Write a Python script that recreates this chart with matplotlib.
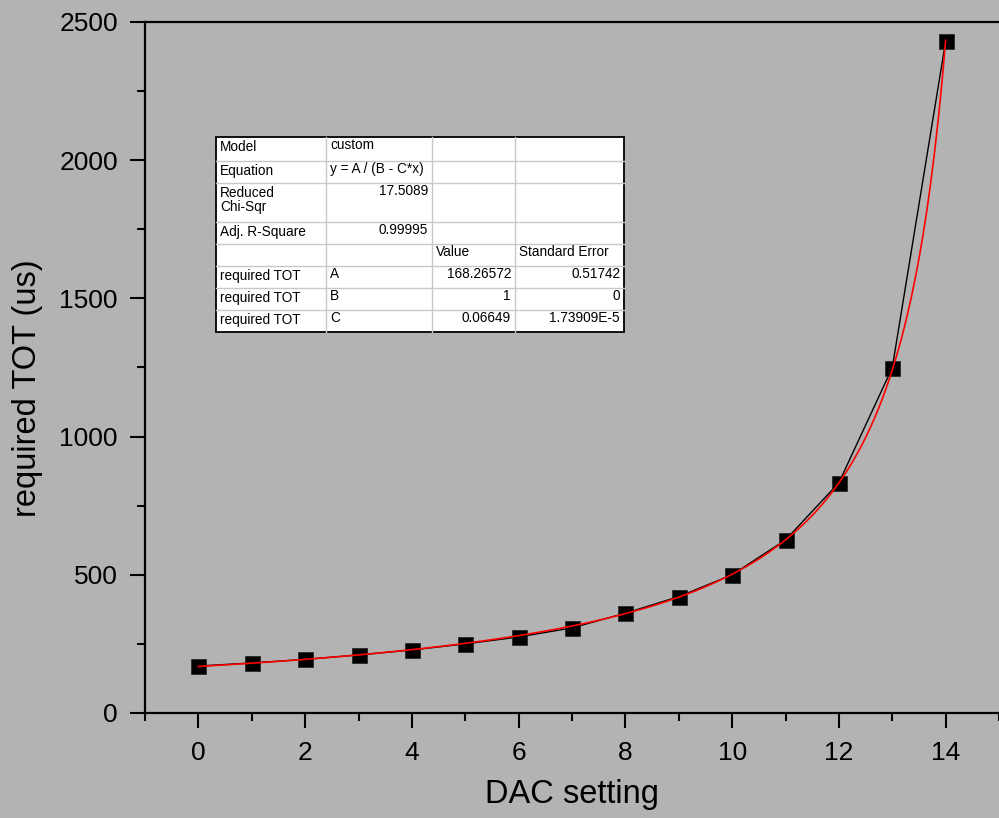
import numpy as np
import matplotlib
matplotlib.use("Agg")
import matplotlib.pyplot as plt
from matplotlib.lines import Line2D
from matplotlib.patches import Rectangle

# ---------------- data ----------------
dac = [0, 1, 2, 3, 4, 5, 6, 7, 8, 9, 10, 11, 12, 13, 14]
tot = [170, 181, 194, 210, 228, 250, 275, 308, 361, 421, 500, 626, 833, 1249, 2430]

# fit parameters (y = A / (B - C*x))
fit_A = 168.26572
fit_B = 1.0
fit_C = 0.06649

table_rows = [
    ["Model", "custom", "", ""],
    ["Equation", "y = A / (B - C*x)", "", ""],
    ["Reduced\nChi-Sqr", "17.5089", "", ""],
    ["Adj. R-Square", "0.99995", "", ""],
    ["", "", "Value", "Standard Error"],
    ["required TOT", "A", "168.26572", "0.51742"],
    ["required TOT", "B", "1", "0"],
    ["required TOT", "C", "0.06649", "1.73909E-5"],
]
# which cells are right aligned (numbers)
right_cells = {(2, 1), (3, 1), (5, 2), (5, 3), (6, 2), (6, 3), (7, 2), (7, 3)}

xticks = [0, 2, 4, 6, 8, 10, 12, 14]
yticks = [0, 500, 1000, 1500, 2000, 2500]

# ---------------- style ----------------
W, H = 999, 818
BG = "#b3b3b3"
plt.rcParams["font.family"] = ["Liberation Sans", "DejaVu Sans"]

fig = plt.figure(figsize=(W / 100, H / 100), dpi=100, facecolor=BG)
ax = fig.add_axes([145 / W, 1 - 713 / H, 854 / W, 691 / H], facecolor=BG)

xf = np.linspace(dac[0], dac[-1], 400)
yf = fit_A / (fit_B - fit_C * xf)

ax.plot(dac, tot, color="black", lw=1.0, zorder=2)
ax.plot(dac, tot, ls="none", marker="s", ms=10.8, mfc="black", mec="#2a2a2a",
        mew=0.6, zorder=3)
ax.plot(xf, yf, color="#ff0000", lw=1.2, zorder=4)

ax.set_xlim(-1, 15)
ax.set_ylim(0, 2500)
ax.set_xticks(xticks)
ax.set_xticks([-1, 1, 3, 5, 7, 9, 11, 13, 15], minor=True)
ax.set_yticks(yticks)
ax.set_yticks([250, 750, 1250, 1750, 2250], minor=True)
ax.tick_params(which="major", direction="out", length=10.5, width=1.5,
               labelsize=19, pad=9, colors="black")
ax.tick_params(axis="x", which="major", pad=10)
ax.tick_params(which="minor", direction="out", length=5.5, width=1.5)
ax.spines["right"].set_visible(False)
for s in ["left", "bottom", "top"]:
    ax.spines[s].set_linewidth(1.6)

ax.set_xlabel("DAC setting", fontsize=23.5)
ax.set_ylabel("required TOT (us)", fontsize=23.5)
ax.xaxis.set_label_coords(0.5, (713 - 779) / 691)
ax.yaxis.set_label_coords((43 - 145) / 854, (713 - 388) / 691)

# ---------------- table (figure pixel layout) ----------------
col_x = [216, 326, 432, 515, 624]
row_y = [137, 160.7, 182.7, 221.7, 244, 266, 288.3, 310, 331.7]

def fx(px):
    return px / W

def fy(py):
    return 1 - py / H

fig.patches.append(Rectangle((fx(col_x[0]), fy(row_y[-1])),
                             fx(col_x[-1]) - fx(col_x[0]),
                             fy(row_y[0]) - fy(row_y[-1]),
                             transform=fig.transFigure, facecolor="white",
                             edgecolor="black", lw=1.3, zorder=5))
for xv in col_x[1:-1]:
    fig.lines.append(Line2D([fx(xv), fx(xv)], [fy(row_y[0]), fy(row_y[-1])],
                            transform=fig.transFigure, color="#c8c8c8", lw=1.0,
                            zorder=6))
for yv in row_y[1:-1]:
    fig.lines.append(Line2D([fx(col_x[0]), fx(col_x[-1])], [fy(yv), fy(yv)],
                            transform=fig.transFigure, color="#c8c8c8", lw=1.0,
                            zorder=6))

for r, row in enumerate(table_rows):
    for c, txt in enumerate(row):
        if not txt:
            continue
        top = row_y[r]
        if c == 0:
            x, ha = col_x[c] + 4, "left"
            y = top + 3
        elif (r, c) in right_cells:
            x, ha = col_x[c + 1] - 4, "right"
            y = top + 1
        else:
            x, ha = col_x[c] + 4, "left"
            y = top + 1
        fig.text(fx(x), fy(y), txt, ha=ha, va="top", fontsize=9.8,
                 linespacing=1.0, zorder=7)

fig.savefig("out.png", dpi=100, facecolor=BG)
